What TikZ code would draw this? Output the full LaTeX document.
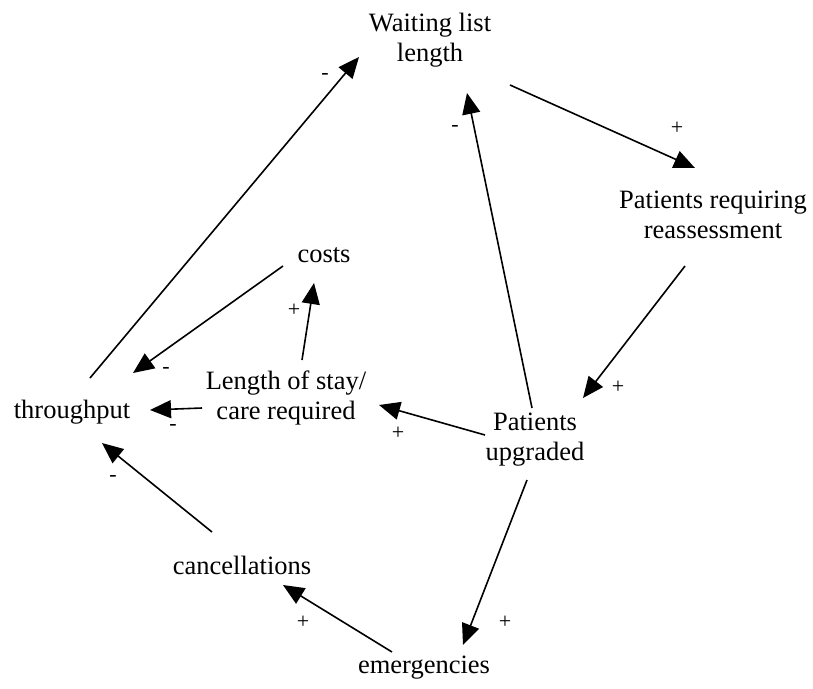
\documentclass[tikz,border=0pt]{standalone}
\usepackage{fontspec}
\setmainfont{Liberation Serif}
\usetikzlibrary{arrows.meta}
\begin{document}
\begin{tikzpicture}[x=1pt,y=-1pt,
  var/.style={font=\fontsize{26.5}{30}\selectfont, align=center, inner sep=0pt},
  sgn/.style={font=\fontsize{22}{24}\selectfont, inner sep=0pt},
  link/.style={line width=1.6pt, -{Triangle[length=21pt,width=18pt]}}]
\useasboundingbox (0,0) rectangle (813,688);
% variables
\node[var] (W) at (430,40) {Waiting list\\length};
\node[var] (R) at (713,215) {Patients requiring\\reassessment};
\node[var] (C) at (324,255) {costs};
\node[var] (L) at (286,398) {Length of stay/\\care required};
\node[var] (T) at (72,412) {throughput};
\node[var] (U) at (535,440) {Patients\\upgraded};
\node[var] (K) at (242,565) {cancellations};
\node[var] (E) at (424,668) {emergencies};
% causal links
\draw[link] ([shift={(18,-34)}]T.center) -- ([shift={(-71,17)}]W.center);
\draw[link] ([shift={(80,45)}]W.center) -- ([shift={(-18,-47)}]R.center);
\draw[link] ([shift={(-28,51)}]R.center) -- ([shift={(48,-42)}]U.center);
\draw[link] ([shift={(-3,-32)}]U.center) -- ([shift={(37,53)}]W.center);
\draw[link] ([shift={(-41,11)}]C.center) -- ([shift={(61,-39)}]T.center);
\draw[link] ([shift={(16,-38)}]L.center) -- ([shift={(-10,28)}]C.center);
\draw[link] ([shift={(-84,10)}]L.center) -- ([shift={(78,-2)}]T.center);
\draw[link] ([shift={(-50,-5)}]U.center) -- ([shift={(93,7)}]L.center);
\draw[link] ([shift={(-30,-33)}]K.center) -- ([shift={(30,31)}]T.center);
\draw[link] ([shift={(-32,-16)}]E.center) -- ([shift={(41,20)}]K.center);
\draw[link] ([shift={(-8,40)}]U.center) -- ([shift={(39,-23)}]E.center);
% polarities
\node[sgn] (s1) at (325,76) {-};
\node[sgn] (s2) at (677,128) {+};
\node[sgn] (s3) at (618,387) {+};
\node[sgn] (s4) at (455,128) {-};
\node[sgn] (s5) at (166,370) {-};
\node[sgn] (s6) at (294,310) {+};
\node[sgn] (s7) at (173,427) {-};
\node[sgn] (s8) at (398,433) {+};
\node[sgn] (s9) at (113,478) {-};
\node[sgn] (s10) at (303,622) {+};
\node[sgn] (s11) at (505,622) {+};
\end{tikzpicture}
\end{document}
